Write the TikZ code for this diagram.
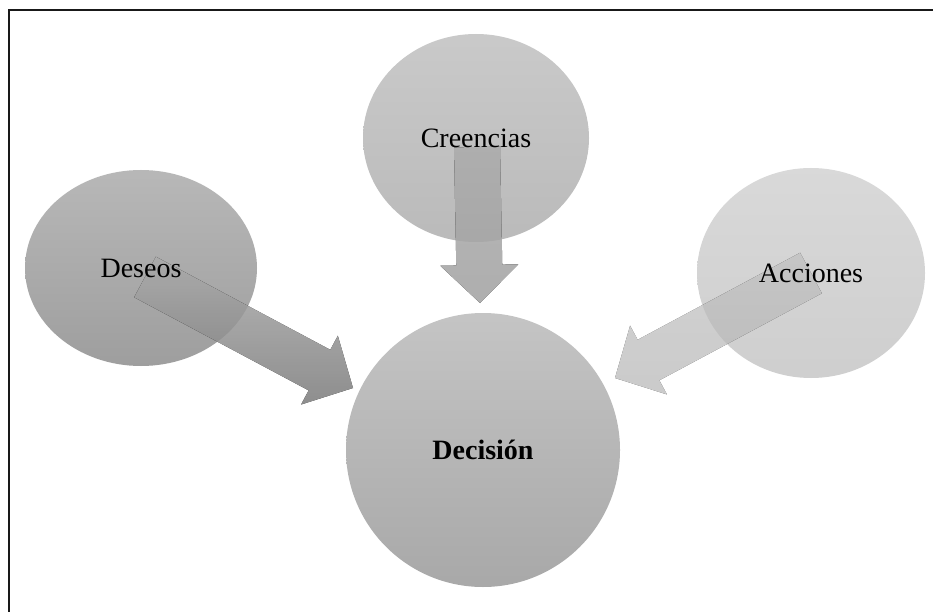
\documentclass[tikz,border=0pt]{standalone}
\usepackage{fontspec}
\setmainfont{Liberation Serif}
\usetikzlibrary{shapes.geometric,calc}

% block arrow from #1 to #2, shaded with style #3, at opacity #4
\newcommand\blockarrow[4]{%
  \coordinate (hb) at ($(#2)!38pt!(#1)$);
  \begin{scope}[transparency group, opacity=#4]
  \fill[#3]
    ($(#1)!23pt!90:(#2)$) -- ($(hb)!23pt!90:(#2)$) -- ($(hb)!39pt!90:(#2)$) --
    (#2) --
    ($(hb)!39pt!-90:(#2)$) -- ($(hb)!23pt!-90:(#2)$) -- ($(#1)!23pt!-90:(#2)$) -- cycle;
  \end{scope}
}

\begin{document}
\begin{tikzpicture}[x=1pt,y=1pt,
  bubble/.style={ellipse, draw=none, inner sep=0pt},
  bubbletext/.style={font=\fontsize{28}{32}\selectfont, text=black, inner sep=0pt},
  framelines/.style={line width=1.9pt, black!90}
]
\useasboundingbox (0,0) rectangle (933,611);
\clip (0,0) rectangle (933,611);
\fill[white] (0,0) rectangle (933,611);

% frame
\coordinate (fA) at (9,-10);
\coordinate (fB) at (9,601);
\coordinate (fC) at (945,601);
\draw[framelines] (fA) -- (fB) -- (fC);

% bubbles
\node[bubble, minimum width=226pt, minimum height=208pt,
      top color=black!21, bottom color=black!27] (cre) at (476,473) {};
\node[bubble, minimum width=232pt, minimum height=196pt,
      top color=black!28, bottom color=black!38] (des) at (141,343) {};
\node[bubble, minimum width=228pt, minimum height=210pt,
      top color=black!15, bottom color=black!19] (acc) at (811,338) {};
\node[bubble, minimum width=274pt, minimum height=274pt,
      top color=black!23, bottom color=black!34] (dec) at (483,161) {};

% arrow ends
\coordinate (creT) at ($(cre.center)+(1,-9)$);
\coordinate (creTip) at (480,308);
\coordinate (desT) at ($(des.center)+(4,-9)$);
\coordinate (desTip) at (353,223);
\coordinate (accT) at (acc.center);
\coordinate (accTip) at (615,233);

\blockarrow{desT}{desTip}{top color=black!33, bottom color=black!52}{0.85}
\blockarrow{creT}{creTip}{top color=black!33, bottom color=black!37}{0.85}
\blockarrow{accT}{accTip}{top color=black!25, bottom color=black!29}{0.7}

% labels
\node[bubbletext] at (cre.center) {Creencias};
\node[bubbletext] at (des.center) {Deseos};
\node[bubbletext] at (acc.center) {Acciones};
\node[bubbletext, font=\fontsize{28}{32}\selectfont\bfseries] at (dec.center) {Decisión};
\end{tikzpicture}
\end{document}
